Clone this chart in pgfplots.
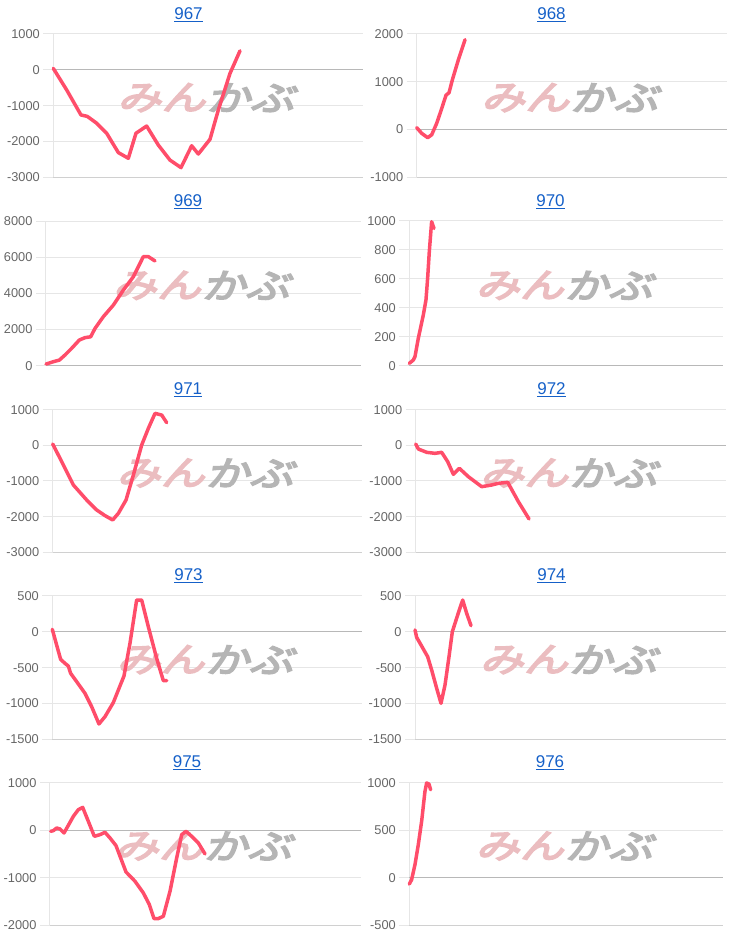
\documentclass[border=0pt]{standalone}
\usepackage{fontspec}
\setmainfont{Liberation Sans}
\newfontfamily\logofont{Noto Sans CJK JP}[FakeBold=5,FakeSlant=0.25,FakeStretch=1.3]
\usepackage{pgfplots}
\pgfplotsset{compat=1.18}
\definecolor{linered}{HTML}{FF4D6A}
\definecolor{gridgray}{HTML}{E6E6E6}
\definecolor{botgray}{HTML}{D0D0D0}
\definecolor{zerogray}{HTML}{B8B8B8}
\definecolor{labgray}{HTML}{666666}
\definecolor{titleblue}{HTML}{1560C8}
\definecolor{wmpink}{HTML}{EBBDC0}
\definecolor{wmgray}{HTML}{B5B5B5}
\pgfplotsset{panel/.style={
  scale only axis, xmin=0, xtick=\empty, clip=false,
  axis x line*=bottom, axis y line*=left,
  x axis line style={draw=botgray, line width=1pt},
  y axis line style={draw=gridgray, line width=1pt},
  ymajorgrids, grid style={draw=gridgray, line width=1pt},
  ytick style={draw=gridgray, line width=1pt},
  tick align=outside, major tick length=10pt,
  yticklabel style={font=\fontsize{12.8}{14}\selectfont, text=labgray},
  scaled y ticks=false,
  /pgf/number format/assume math mode=true,
  /pgf/number format/1000 sep={},
  extra y ticks={0}, extra y tick labels={},
  extra y tick style={grid style={draw=zerogray, line width=1pt}, tick style={draw=zerogray}}
},
plotline/.style={draw=linered, line width=3.5pt, line join=round, line cap=round, mark=none, sharp plot}}
\newcommand{\wm}{%
  \node[anchor=east, inner sep=0pt, xshift=-2pt, yshift=8pt, text=wmpink, font=\logofont\fontsize{34}{34}\selectfont] at (axis description cs:0.5,0.5) {みん};
  \node[anchor=west, inner sep=0pt, xshift=-2pt, yshift=8pt, text=wmgray, font=\logofont\fontsize{34}{34}\selectfont] at (axis description cs:0.5,0.5) {かぶ};
}
\newcommand{\ttl}[3]{\node[anchor=base, inner sep=0pt, text=titleblue, font=\fontsize{17}{20}\selectfont] at (#1pt,#2pt) {\underline{#3}};}
\begin{document}
\begin{tikzpicture}
\useasboundingbox (0,0) rectangle (731pt,935pt);
% 967
\begin{axis}[panel, at={(53.3pt,757.7pt)}, width=309.4pt, height=143.3pt, xmax=928, ymin=-3000, ymax=1000, ytick={-3000,-2000,-1000,0,1000}]
\wm
\addplot[plotline] coordinates {(0,40) (40,-560) (83,-1260) (102,-1300) (130,-1490) (160,-1770) (195,-2310) (225,-2470) (248,-1770) (280,-1570) (315,-2100) (350,-2520) (383,-2730) (415,-2120) (435,-2350) (470,-1940) (495,-1120) (530,-100) (560,530)};
\end{axis}
% 968
\begin{axis}[panel, at={(416.7pt,757.7pt)}, width=310pt, height=143.3pt, xmax=930, ymin=-1000, ymax=2000, ytick={-1000,0,1000,2000}]
\wm
\addplot[plotline] coordinates {(0,40) (15,-80) (33,-170) (45,-110) (60,130) (75,440) (88,720) (97,770) (107,1040) (125,1460) (145,1880)};
\end{axis}
% 969
\begin{axis}[panel, at={(46pt,569.3pt)}, width=314.7pt, height=144.7pt, xmax=944, ymin=0, ymax=8000, ytick={0,2000,4000,6000,8000}]
\wm
\addplot[plotline] coordinates {(0,90) (22,220) (40,310) (57,590) (77,960) (100,1420) (117,1550) (134,1600) (147,2060) (172,2710) (202,3350) (232,4180) (262,4920) (292,6030) (307,6030) (327,5790)};
\end{axis}
% 970
\begin{axis}[panel, at={(409.3pt,569.3pt)}, width=314pt, height=144.7pt, xmax=942, ymin=0, ymax=1000, ytick={0,200,400,600,800,1000}]
\wm
\addplot[plotline] coordinates {(0,16) (12,39) (17,62) (27,189) (42,350) (50,454) (55,604) (60,788) (67,995) (74,949)};
\end{axis}
% 971
\begin{axis}[panel, at={(52.7pt,382.7pt)}, width=309pt, height=142.6pt, xmax=927, ymin=-3000, ymax=1000, ytick={-3000,-2000,-1000,0,1000}]
\wm
\addplot[plotline] coordinates {(0,37) (22,-364) (62,-1112) (102,-1533) (132,-1813) (157,-1972) (180,-2093) (197,-1907) (220,-1533) (242,-832) (267,9) (287,477) (307,897) (327,850) (342,636)};
\end{axis}
% 972
\begin{axis}[panel, at={(415.7pt,382.7pt)}, width=310pt, height=142.6pt, xmax=930, ymin=-3000, ymax=1000, ytick={-3000,-2000,-1000,0,1000}]
\wm
\addplot[plotline] coordinates {(0,37) (8,-103) (33,-196) (58,-224) (78,-196) (96,-458) (113,-813) (131,-645) (158,-879) (198,-1159) (228,-1112) (248,-1065) (276,-1037) (308,-1579) (340,-2065)};
\end{axis}
% 973
\begin{axis}[panel, at={(52.3pt,195.7pt)}, width=309.4pt, height=143.3pt, xmax=928, ymin=-1500, ymax=500, ytick={-1500,-1000,-500,0,500}]
\wm
\addplot[plotline] coordinates {(0,35) (13,-184) (25,-384) (38,-440) (48,-477) (55,-579) (73,-695) (98,-858) (118,-1044) (140,-1286) (158,-1184) (183,-988) (215,-616) (233,-160) (253,444) (268,444) (288,72) (313,-370) (333,-681) (343,-681)};
\end{axis}
% 974
\begin{axis}[panel, at={(415pt,195.7pt)}, width=310.7pt, height=143.3pt, xmax=932, ymin=-1500, ymax=500, ytick={-1500,-1000,-500,0,500}]
\wm
\addplot[plotline] coordinates {(0,26) (5,-77) (22,-216) (38,-347) (50,-533) (65,-788) (78,-998) (90,-742) (102,-347) (112,2) (128,235) (143,444) (155,258) (168,86)};
\end{axis}
% 975
\begin{axis}[panel, at={(50pt,9.7pt)}, width=310.7pt, height=142.6pt, xmax=932, ymin=-2000, ymax=1000, ytick={-2000,-1000,0,1000}]
\wm
\addplot[plotline] coordinates {(2,-23) (10,-9) (20,47) (30,26) (42,-58) (55,103) (70,292) (85,432) (98,481) (115,187) (133,-128) (150,-93) (165,-44) (180,-163) (198,-324) (212,-584) (228,-878) (255,-1074) (280,-1319) (298,-1564) (312,-1859) (325,-1859) (340,-1810) (360,-1284) (380,-584) (395,-93) (408,-23) (425,-128) (445,-268) (465,-499)};
\end{axis}
% 976
\begin{axis}[panel, at={(409.3pt,9.7pt)}, width=314pt, height=142.6pt, xmax=942, ymin=-500, ymax=1000, ytick={-500,0,500,1000}]
\wm
\addplot[plotline] coordinates {(0,-66) (7,-20) (17,138) (27,348) (37,593) (47,909) (52,997) (59,986) (64,926)};
\end{axis}
\ttl{188.5}{915.7}{967}
\ttl{551.5}{915.7}{968}
\ttl{188}{728}{969}
\ttl{550.5}{728}{970}
\ttl{188}{540}{971}
\ttl{551.5}{540}{972}
\ttl{188.5}{354.5}{973}
\ttl{551.5}{354.5}{974}
\ttl{187}{167.3}{975}
\ttl{550}{167.3}{976}
\end{tikzpicture}
\end{document}
